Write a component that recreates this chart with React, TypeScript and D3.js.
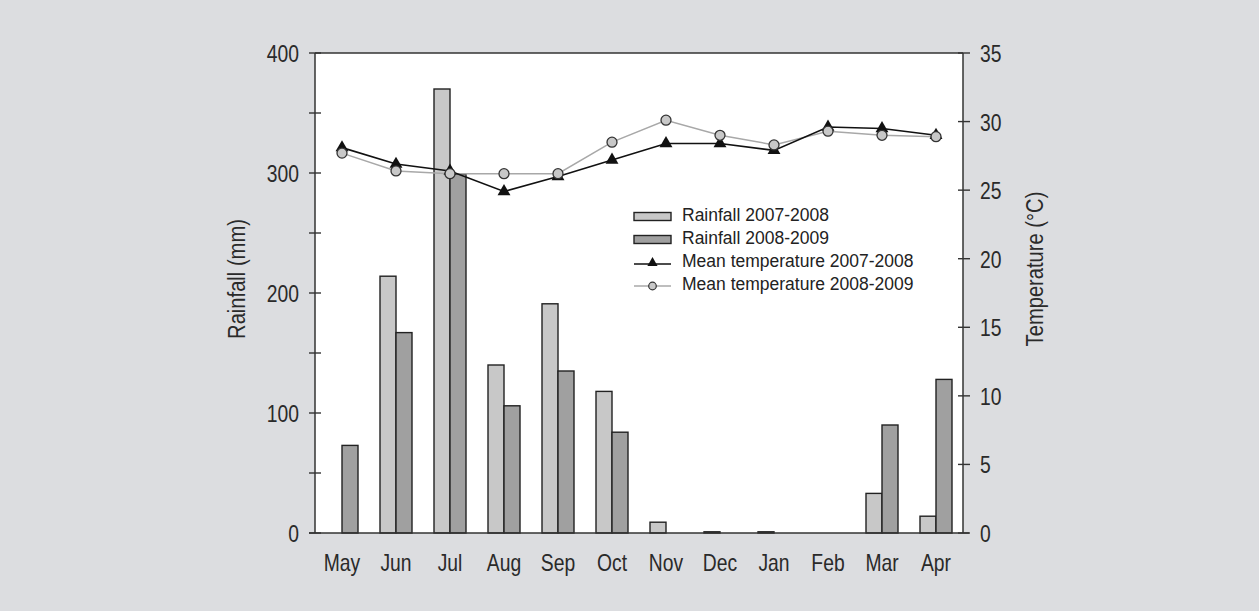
import React from "react";
import * as d3 from "d3";

const months = ["May", "Jun", "Jul", "Aug", "Sep", "Oct", "Nov", "Dec", "Jan", "Feb", "Mar", "Apr"];
const rain0708 = [0, 214, 370, 140, 191, 118, 9, 1, 1, 0, 33, 14];
const rain0809 = [73, 167, 299, 106, 135, 84, 0, 0, 0, 0, 90, 128];
const temp0708 = [28.1, 26.9, 26.4, 24.9, 26.0, 27.2, 28.4, 28.4, 27.9, 29.6, 29.5, 29.0];
const temp0809 = [27.7, 26.4, 26.2, 26.2, 26.2, 28.5, 30.1, 29.0, 28.3, 29.3, 29.0, 28.9];
const rainTicks = [0, 100, 200, 300, 400];
const rainMinor = [50, 150, 250, 350];
const tempTicks = [0, 5, 10, 15, 20, 25, 30, 35];
const legendLabels = ["Rainfall 2007-2008", "Rainfall 2008-2009", "Mean temperature 2007-2008", "Mean temperature 2008-2009"];

const W = 1259, H = 611;
const L = 315, R = 963, T = 53, B = 533;
const BG = "#dcdde0";
const LIGHT = "#c8c8c8";
const DARK = "#a0a0a0";
const INK = "#222";
const SANS = "'Liberation Sans', Arial, sans-serif";
const SX = 0.84;

function NText(props: { x: number; y: number; anchor: string; rotate?: number; size?: number; children: React.ReactNode }) {
  const { x, y, anchor, rotate = 0, size = 23, children } = props;
  return (
    <text
      transform={`translate(${x},${y}) rotate(${rotate}) scale(${SX},1)`}
      textAnchor={anchor}
      fontFamily={SANS}
      fontSize={size}
      fill="#2a2a2a"
    >
      {children}
    </text>
  );
}

export default function App() {
  const x = d3.scaleBand<string>().domain(months).range([L, R]).padding(0);
  const yR = d3.scaleLinear().domain([0, 400]).range([B, T]);
  const yT = d3.scaleLinear().domain([0, 35]).range([B, T]);
  const cx = (m: string) => (x(m) as number) + x.bandwidth() / 2;
  const bw = 16;

  const line0708 = d3.line<number>().x((_, i) => cx(months[i])).y((d) => yT(d));
  const line0809 = d3.line<number>().x((_, i) => cx(months[i])).y((d) => yT(d));
  const tri = d3.symbol().type(d3.symbolTriangle).size(72)() as string;
  const triSmall = d3.symbol().type(d3.symbolTriangle).size(45)() as string;

  const lx = 634, lw = 37, ltx = 682;
  const lBase = [221, 244, 267, 290];

  return (
    <svg width={W} height={H} style={{ position: "absolute", left: 0, top: 0, display: "block" }}>
      <rect x={0} y={0} width={W} height={H} fill={BG} />
      <rect x={L} y={T} width={R - L} height={B - T} fill="#fff" />

      {/* bars */}
      {months.map((m, i) => (
        <g key={m}>
          {rain0708[i] > 0 && (
            <rect x={cx(m) - bw} y={yR(rain0708[i])} width={bw} height={B - yR(rain0708[i])}
              fill={LIGHT} stroke={INK} strokeWidth={1.4} />
          )}
          {rain0809[i] > 0 && (
            <rect x={cx(m)} y={yR(rain0809[i])} width={bw} height={B - yR(rain0809[i])}
              fill={DARK} stroke={INK} strokeWidth={1.4} />
          )}
        </g>
      ))}

      {/* frame */}
      <line x1={L} y1={T} x2={R} y2={T} stroke="#333" strokeWidth={1.5} />
      <line x1={L} y1={T} x2={L} y2={B} stroke="#333" strokeWidth={1.5} />
      <line x1={R} y1={T} x2={R} y2={B} stroke="#333" strokeWidth={1.5} />
      <line x1={L - 6} y1={B} x2={R + 6} y2={B} stroke="#333" strokeWidth={1.5} />

      {/* temperature lines */}
      <path d={line0809(temp0809) as string} fill="none" stroke="#a8a8a8" strokeWidth={1.5} />
      <path d={line0708(temp0708) as string} fill="none" stroke="#111" strokeWidth={1.6} />
      {temp0708.map((t, i) => (
        <path key={"t" + i} d={tri} transform={`translate(${cx(months[i])},${yT(t)})`} fill="#111" />
      ))}
      {temp0809.map((t, i) => (
        <circle key={"c" + i} cx={cx(months[i])} cy={yT(t)} r={5} fill={LIGHT} stroke="#333" strokeWidth={1.3} />
      ))}

      {/* left axis */}
      {rainTicks.map((v) => (
        <g key={"lr" + v}>
          <line x1={L - 6} x2={L + 6} y1={yR(v)} y2={yR(v)} stroke="#333" strokeWidth={1.4} />
          <NText x={L - 16} y={yR(v) + 8.5} anchor="end">{v}</NText>
        </g>
      ))}
      {rainMinor.map((v) => (
        <line key={"lm" + v} x1={L - 6} x2={L + 6} y1={yR(v)} y2={yR(v)} stroke="#333" strokeWidth={1.4} />
      ))}

      {/* right axis */}
      {tempTicks.map((v) => (
        <g key={"rt" + v}>
          <line x1={R - 5} x2={R + 7} y1={yT(v)} y2={yT(v)} stroke="#333" strokeWidth={1.4} />
          <NText x={R + 17} y={yT(v) + 9} anchor="start">{v}</NText>
        </g>
      ))}

      {/* month labels */}
      {months.map((m) => (
        <NText key={"m" + m} x={cx(m)} y={571} anchor="middle">{m}</NText>
      ))}

      {/* axis titles */}
      <NText x={245} y={279} rotate={-90} anchor="middle" size={24}>Rainfall (mm)</NText>
      <NText x={1043} y={269} rotate={-90} anchor="middle" size={24}>Temperature (°C)</NText>

      {/* legend */}
      <rect x={lx} y={lBase[0] - 8.5} width={lw} height={8} fill={LIGHT} stroke={INK} strokeWidth={1.4} />
      <rect x={lx} y={lBase[1] - 8.5} width={lw} height={8} fill={DARK} stroke={INK} strokeWidth={1.4} />
      <line x1={lx} x2={lx + lw} y1={lBase[2] - 3} y2={lBase[2] - 3} stroke="#111" strokeWidth={1.5} />
      <path d={triSmall} transform={`translate(${lx + lw / 2},${lBase[2] - 4})`} fill="#111" />
      <line x1={lx} x2={lx + lw} y1={lBase[3] - 4} y2={lBase[3] - 4} stroke="#a8a8a8" strokeWidth={1.4} />
      <circle cx={lx + lw / 2} cy={lBase[3] - 4} r={3.8} fill={LIGHT} stroke="#333" strokeWidth={1.2} />
      {legendLabels.map((s, i) => (
        <text key={s} x={ltx} y={lBase[i]} fontFamily={SANS} fontSize={17.5} fill="#222">{s}</text>
      ))}
    </svg>
  );
}
